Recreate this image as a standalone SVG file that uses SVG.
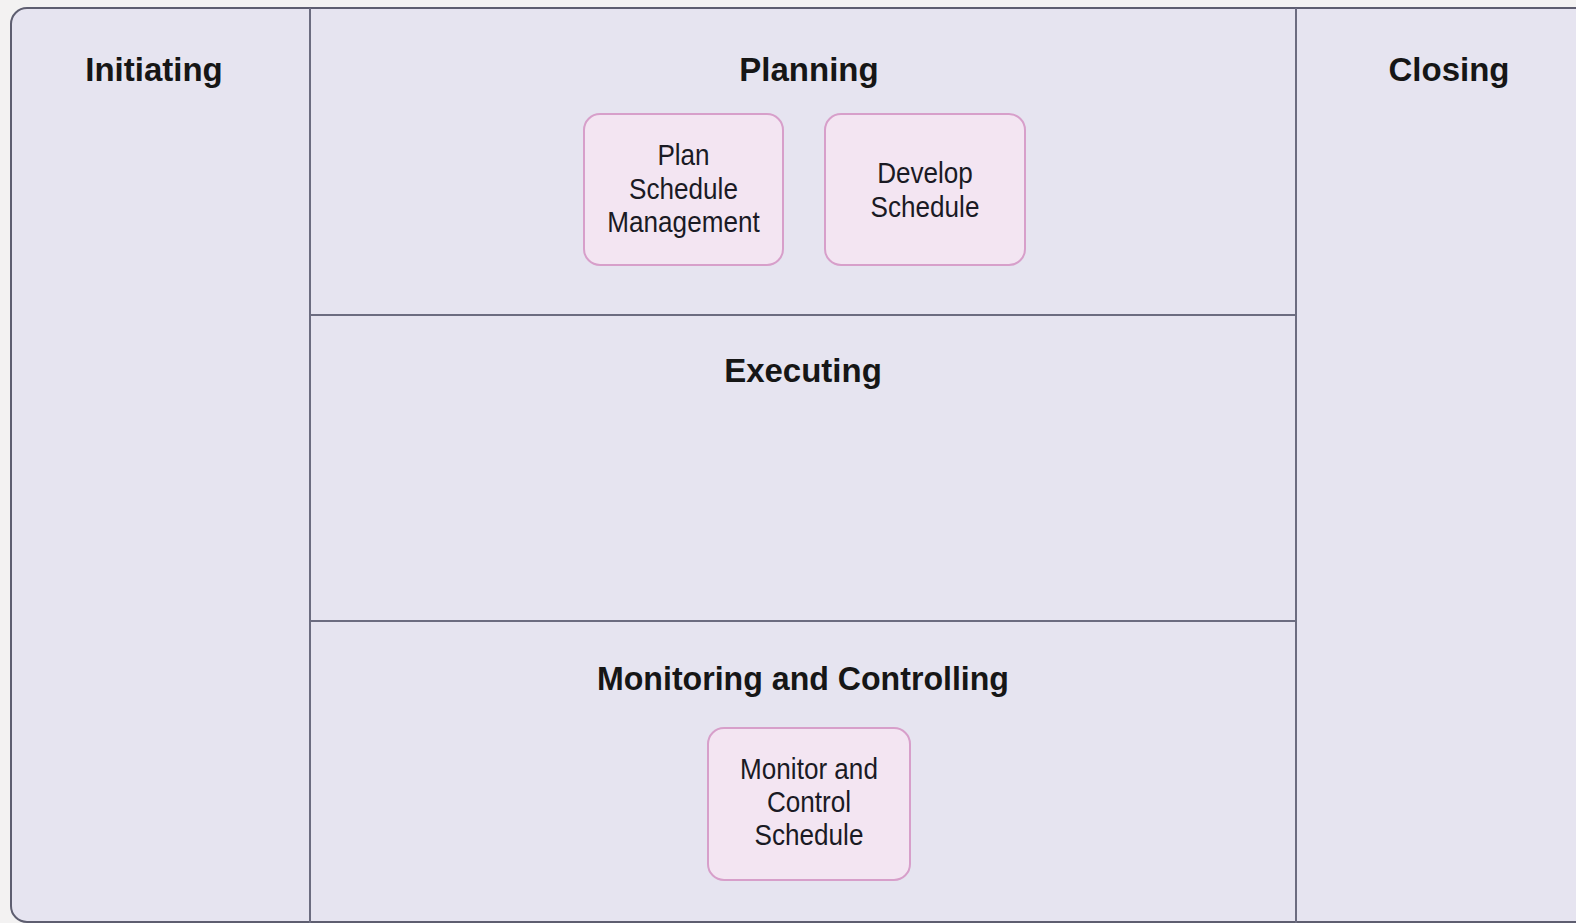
<svg xmlns="http://www.w3.org/2000/svg" width="1576" height="923" viewBox="0 0 1576 923">
<style>
.head{font-family:"Liberation Sans",Arial,sans-serif;font-weight:bold;font-size:33px;fill:#161616;text-anchor:middle}
.lbl{font-family:"Liberation Sans",Arial,sans-serif;font-size:29px;fill:#1a1a24;text-anchor:middle}
.box{fill:#f3e5f2;stroke:#d79fca;stroke-width:2}
.div{stroke:#6c6c80;stroke-width:2;fill:none}
</style>
<rect width="1576" height="923" fill="#f3f2f2"/>
<g id="frame">
<rect x="11" y="8" width="1600" height="914" rx="16" fill="#e6e4f0" stroke="#5e5e70" stroke-width="2"/>
<line class="div" x1="310" y1="8" x2="310" y2="923"/>
<line class="div" x1="1296" y1="8" x2="1296" y2="923"/>
<line class="div" x1="310" y1="315" x2="1296" y2="315"/>
<line class="div" x1="310" y1="621" x2="1296" y2="621"/>
</g>
<g id="initiating"><text class="head" x="154" y="81">Initiating</text></g>
<g id="planning"><text class="head" x="809" y="81">Planning</text></g>
<g id="executing"><text class="head" x="803" y="382">Executing</text></g>
<g id="monitoring"><text class="head" x="803" y="690" textLength="412" lengthAdjust="spacingAndGlyphs">Monitoring and Controlling</text></g>
<g id="closing"><text class="head" x="1449" y="81">Closing</text></g>
<g id="plan-schedule-management">
<rect class="box" x="584" y="114" width="199" height="151" rx="16"/>
<g transform="translate(683.5,0) scale(0.9,1)">
<text class="lbl" x="0" y="165">Plan</text>
<text class="lbl" x="0" y="199">Schedule</text>
<text class="lbl" x="0" y="232">Management</text>
</g>
</g>
<g id="develop-schedule">
<rect class="box" x="825" y="114" width="200" height="151" rx="16"/>
<g transform="translate(925,0) scale(0.9,1)">
<text class="lbl" x="0" y="183">Develop</text>
<text class="lbl" x="0" y="217">Schedule</text>
</g>
</g>
<g id="monitor-control-schedule">
<rect class="box" x="708" y="728" width="202" height="152" rx="16"/>
<g transform="translate(809,0) scale(0.9,1)">
<text class="lbl" x="0" y="779">Monitor and</text>
<text class="lbl" x="0" y="812">Control</text>
<text class="lbl" x="0" y="845">Schedule</text>
</g>
</g>
<g id="connectors"></g>
</svg>
